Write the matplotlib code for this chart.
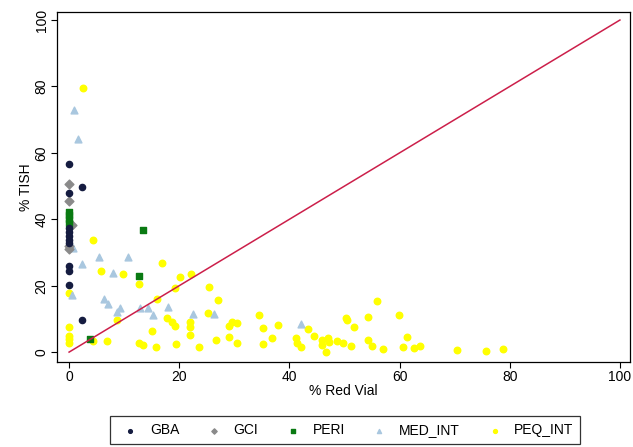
import matplotlib
matplotlib.use("Agg")
import matplotlib.pyplot as plt

plt.rcParams['font.family'] = ['Liberation Sans', 'DejaVu Sans']

# GBA
gba_x = [0, 2.4, 0, 0, 0, 0, 0, 0, 0, 0, 0, 2.4]
gba_y = [56.5, 49.8, 47.8, 37.5, 36.3, 35.0, 33.8, 32.8, 26.0, 24.3, 20.3, 9.8]

# GCI
gci_x = [0, 0, 0.6, 0, 0]
gci_y = [50.5, 45.5, 38.3, 32.0, 31.0]

# PERI
peri_x = [0, 0, 0, 0, 13.4, 12.7, 3.8]
peri_y = [42.3, 41.2, 40.0, 39.0, 36.8, 22.8, 3.8]

# MED_INT
med_x = [0.9, 1.6, 0.7, 5.5, 2.4, 10.7, 8.0, 0.5, 6.4, 7.1, 9.3, 8.7,
         12.9, 14.3, 15.2, 18.0, 22.5, 26.3, 42.1]
med_y = [72.8, 64.3, 31.5, 28.7, 26.6, 28.5, 23.9, 17.3, 16.0, 14.6, 13.4, 12.1,
         13.4, 13.4, 11.2, 13.7, 11.5, 11.5, 8.4]

# PEQ_INT
peq_x = [2.5, 0, 0, 0, 0, 0, 4.4, 5.8, 9.8, 12.7, 16.9, 20.1, 22.1, 25.4, 27.0,
         19.2, 16.0, 8.7, 17.8, 18.7, 19.2, 22.0, 22.0, 25.2, 15.1, 22.0, 29.0,
         29.6, 30.5, 29.0, 30.5, 26.7, 23.6, 19.4, 15.8, 12.7, 13.4, 6.9, 4.4,
         34.5, 35.2, 35.2, 37.9, 36.8, 43.4, 44.5, 41.2, 41.4, 42.1, 45.9, 45.9,
         46.6, 47.0, 47.2, 48.6, 49.7, 51.2, 50.3, 50.5, 51.7, 54.3, 55.9, 54.3,
         55.0, 57.0, 59.9, 61.3, 60.6, 62.6, 63.7, 70.4, 75.7, 78.8]
peq_y = [79.5, 17.8, 7.5, 5.0, 3.8, 2.7, 33.8, 24.5, 23.5, 20.5, 26.8, 22.5, 23.6,
         19.6, 15.8, 19.3, 16.0, 9.6, 10.2, 9.0, 7.8, 9.0, 7.5, 11.7, 6.3, 5.1,
         7.8, 9.0, 8.7, 4.5, 2.7, 3.6, 1.5, 2.4, 1.5, 2.7, 2.1, 3.3, 3.3,
         11.3, 7.2, 2.4, 8.1, 4.2, 6.9, 4.8, 4.2, 2.7, 1.5, 3.6, 2.1,
         0.0, 4.2, 3.0, 3.3, 2.7, 1.8, 10.2, 9.6, 7.5, 10.5, 15.4, 3.6,
         1.8, 0.9, 11.1, 4.5, 1.5, 1.2, 1.8, 0.6, 0.3, 0.9]

fig = plt.figure(figsize=(6.33, 4.47), dpi=100)
ax = fig.add_axes([0.090, 0.190, 0.905, 0.783])

ax.scatter(peq_x, peq_y, s=22, marker='o', color='#ffff00', zorder=2, label='PEQ_INT')
ax.scatter(med_x, med_y, s=24, marker='^', color='#a9c7df', zorder=3, label='MED_INT')
ax.scatter(gci_x, gci_y, s=20, marker='D', color='#8a8a8a', zorder=3, label='GCI')
ax.scatter(peri_x, peri_y, s=22, marker='s', color='#0a7a12', zorder=4, label='PERI')
ax.scatter(gba_x, gba_y, s=20, marker='o', color='#151c40', zorder=4, label='GBA')

ax.plot([0, 100], [0, 100], color='#cc1f4a', lw=1.1, zorder=5)

ax.set_xlim(-2.2, 101.8)
ax.set_ylim(-3.0, 102.4)
ax.set_xticks([0, 20, 40, 60, 80, 100])
ax.set_yticks([0, 20, 40, 60, 80, 100])
for lab in ax.get_yticklabels():
    lab.set_rotation(90)
    lab.set_va('center')
ax.tick_params(labelsize=10, length=4, width=0.8, color='black', pad=2)
ax.set_xlabel('% Red Vial', fontsize=10, labelpad=0)
ax.set_ylabel('% TISH', fontsize=10, labelpad=1)
for sp in ax.spines.values():
    sp.set_linewidth(0.9)

h, l = ax.get_legend_handles_labels()
order = ['GBA', 'GCI', 'PERI', 'MED_INT', 'PEQ_INT']
hd = dict(zip(l, h))
leg = fig.legend([hd[k] for k in order], order, loc='upper center',
                 bbox_to_anchor=(0.545, 0.084), ncol=5, fontsize=10,
                 frameon=True, fancybox=False, edgecolor='black',
                 markerscale=0.6, handletextpad=0.4, columnspacing=1.5,
                 borderpad=0.5)
leg.get_frame().set_linewidth(0.9)

fig.savefig('out.png', dpi=100)
